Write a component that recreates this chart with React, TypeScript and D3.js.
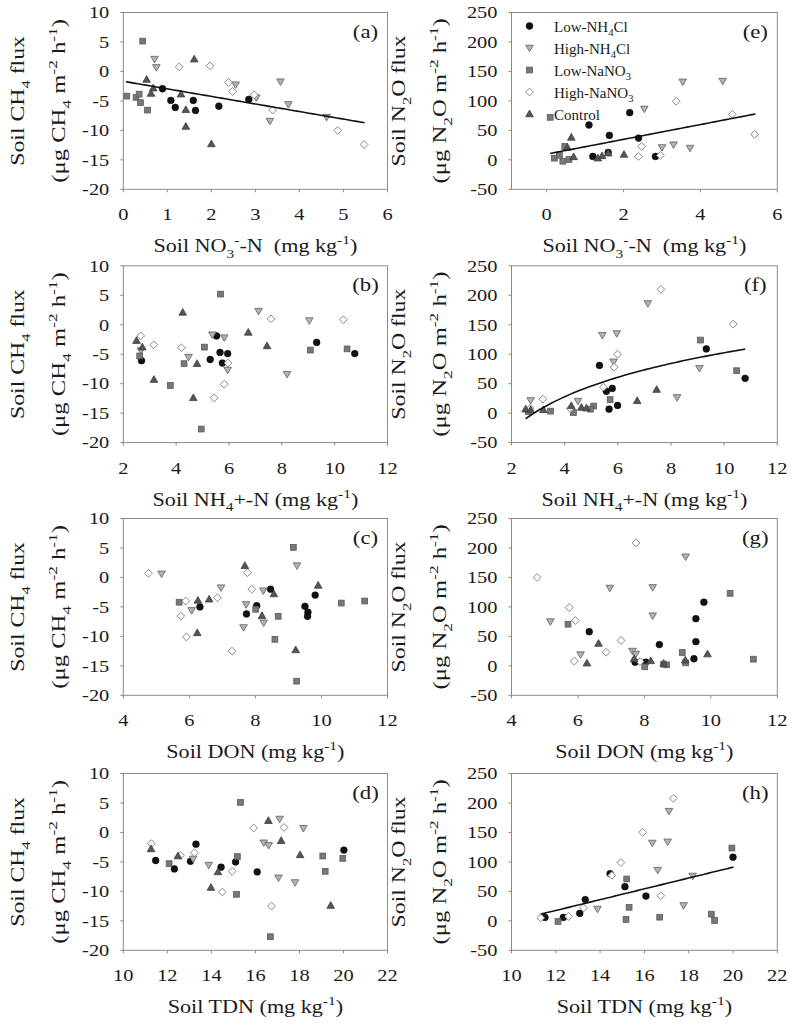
import React from 'react';
import * as d3 from 'd3';

// ---------------- data ----------------
const seriesNames = ['Low-NH4Cl', 'High-NH4Cl', 'Low-NaNO3', 'High-NaNO3', 'Control'];

// (a) soil NO3- vs CH4 flux
const aLowNH4Cl = [[0.89, -2.94], [1.08, -4.92], [1.18, -6.11], [1.59, -4.92], [1.64, -6.62], [2.17, -5.89], [2.85, -4.75]];
const aHighNH4Cl = [[0.71, 2.09], [0.75, 0.68], [2.55, -2.26], [3.57, -1.75], [3.02, -4.47], [3.75, -5.6], [3.33, -8.43], [4.62, -7.76]];
const aLowNaNO3 = [[0.44, 5.15], [0.08, -4.19], [0.29, -4.4], [0.36, -3.85], [0.39, -5.3], [0.55, -6.56]];
const aHighNaNO3 = [[1.27, 0.79], [1.97, 0.96], [2.39, -1.87], [2.48, -3.4], [2.97, -3.96], [3.39, -6.56], [4.87, -10.0], [5.47, -12.4]];
const aControl = [[0.53, -1.36], [0.63, -3.74], [0.68, -2.83], [1.31, -3.85], [1.42, -6.5], [1.42, -9.34], [1.61, 2.09], [2.0, -12.3]];
const aFit = [-1.67, -1.284, 0.06, 5.48]; // intercept, slope, xmin, xmax

// (b) soil NH4+ vs CH4 flux
const bLowNH4Cl = [[2.69, -6.1], [5.53, -1.9], [5.29, -5.9], [5.66, -4.7], [5.95, -4.9], [5.75, -6.5], [9.32, -3.0], [10.76, -4.9]];
const bHighNH4Cl = [[2.67, -4.4], [4.47, -5.5], [5.37, -1.7], [5.82, -2.2], [5.95, -7.7], [7.12, 2.3], [8.2, -8.4], [9.04, 0.7]];
const bLowNaNO3 = [[5.68, 5.2], [2.62, -5.3], [5.07, -3.8], [4.3, -6.6], [3.78, -10.3], [4.95, -17.7], [9.08, -4.3], [10.47, -4.1]];
const bHighNaNO3 = [[2.66, -1.9], [3.15, -3.4], [4.2, -3.9], [5.96, -6.5], [5.82, -10.1], [5.44, -12.4], [7.59, 1.0], [10.33, 0.85]];
const bControl = [[2.5, -2.7], [2.72, -3.8], [3.16, -9.3], [4.25, 2.1], [4.65, -12.4], [4.79, -6.6], [6.73, -1.3], [7.44, -3.6]];

// (c) soil DON vs CH4 flux
const cLowNH4Cl = [[6.32, -5.0], [7.73, -6.2], [8.04, -4.8], [8.46, -2.0], [9.5, -4.9], [9.59, -5.9], [9.58, -6.6], [9.81, -3.0]];
const cHighNH4Cl = [[5.16, 0.6], [6.07, -5.6], [6.96, -1.75], [7.72, -4.6], [7.64, -8.5], [8.24, -2.26], [8.25, -7.7], [9.26, 2.0]];
const cLowNaNO3 = [[5.69, -4.2], [8.01, -5.4], [8.69, -6.6], [8.59, -10.5], [9.15, 5.1], [9.25, -17.6], [10.6, -4.35], [11.31, -4.0]];
const cHighNaNO3 = [[4.76, 0.7], [5.89, -4.0], [5.74, -6.55], [5.91, -10.1], [6.85, -3.45], [7.76, 0.8], [7.89, -2.0], [7.29, -12.5]];
const cControl = [[6.26, -3.9], [6.6, -3.7], [6.24, -9.4], [7.68, 2.0], [8.56, -2.8], [8.2, -6.5], [9.22, -12.3], [9.9, -1.35]];

// (d) soil TDN vs CH4 flux
const dLowNH4Cl = [[11.47, -4.76], [12.32, -6.2], [13.05, -4.9], [13.3, -2.0], [14.44, -5.9], [15.1, -5.0], [16.08, -6.7], [20.02, -3.0]];
const dHighNH4Cl = [[13.17, -4.5], [13.88, -5.55], [16.38, -1.76], [16.6, -2.2], [17.1, 2.27], [17.05, -7.7], [17.8, -8.5], [18.18, 0.7]];
const dLowNaNO3 = [[12.08, -5.3], [15.18, -4.1], [15.32, 5.1], [15.14, -10.5], [16.68, -17.7], [19.06, -4.0], [19.17, -6.6], [19.97, -4.4]];
const dHighNaNO3 = [[11.27, -1.9], [12.59, -3.9], [13.23, -3.45], [14.95, -6.6], [14.5, -10.1], [15.92, 0.74], [17.3, 0.85], [16.73, -12.5]];
const dControl = [[11.26, -2.8], [12.48, -4.0], [13.98, -9.35], [14.3, -6.7], [16.59, 2.0], [17.17, -1.4], [18.03, -3.8], [19.42, -12.4]];

// (e) soil NO3- vs N2O flux
const eLowNH4Cl = [[1.1, 59.1], [2.16, 80.1], [1.63, 41.5], [2.39, 36.9], [1.2, 5.7], [1.6, 12.5], [2.83, 5.7]];
const eHighNH4Cl = [[3.54, 132.3], [4.58, 133.5], [2.54, 86.3], [3.0, 21.0], [3.3, 25.6], [3.73, 19.9]];
const eLowNaNO3 = [[0.09, 72.1], [0.2, 2.8], [0.33, 8.0], [0.42, -2.3], [0.47, 22.7], [0.58, 0.6]];
const eHighNaNO3 = [[3.37, 99.4], [4.83, 77.2], [5.41, 43.2], [2.47, 22.7], [2.39, 5.7], [2.96, 7.4]];
const eControl = [[0.54, 21.0], [0.64, 38.1], [0.7, 5.1], [1.33, 2.8], [1.44, 6.8], [1.6, 11.4], [2.01, 9.1]];
const eFit = [9.67, 12.55, 0.09, 5.43];

// (f) soil NH4+ vs N2O flux
const fLowNH4Cl = [[5.31, 81], [9.33, 109], [10.79, 59], [5.79, 42], [5.57, 37], [5.67, 6.8], [5.99, 13]];
const fHighNH4Cl = [[2.72, 21.5], [4.5, 20.4], [5.42, 132], [5.96, 135], [5.84, 87], [7.13, 186], [9.07, 76], [8.23, 26.6]];
const fLowNaNO3 = [[9.11, 124], [10.47, 72], [5.71, 23], [3.47, 3.4], [4.33, 1.1], [5.09, 12], [4.97, 6.8], [2.63, 2.8]];
const fHighNaNO3 = [[7.62, 210], [10.34, 151], [5.99, 100], [5.86, 78], [5.46, 44], [3.18, 23.8], [2.7, 8], [4.21, 8]];
const fControl = [[2.53, 6.8], [2.72, 5.7], [3.2, 5.7], [4.25, 12.5], [4.63, 9.6], [4.82, 8.5], [6.73, 21], [7.46, 40]];
const fFit = [-85.2, 81.5, 2.53, 10.79]; // y = a + b ln(x)

// (g) soil DON vs N2O flux
const gLowNH4Cl = [[6.34, 58], [8.45, 36], [9.55, 80], [9.79, 108], [9.55, 41], [9.49, 12], [7.72, 6.2], [8.04, 6.2]];
const gHighNH4Cl = [[5.17, 75], [6.08, 19], [6.96, 132], [8.25, 133], [8.25, 85], [9.24, 185], [7.64, 25], [7.74, 20]];
const gLowNaNO3 = [[5.7, 70.6], [8.01, -1.7], [8.67, 1.7], [9.14, 22.6], [9.24, 5], [10.58, 123], [11.28, 11.3], [8.58, 2.8]];
const gHighNaNO3 = [[4.77, 150], [5.74, 99], [5.92, 77], [5.89, 8], [6.85, 23], [7.3, 43], [7.75, 208.5], [7.87, 7.3]];
const gControl = [[6.27, 4.5], [6.62, 38], [7.69, 12], [8.19, 8.5], [8.58, 4], [9.23, 9.6], [9.9, 20]];

// (h) soil TDN vs N2O flux
const hLowNH4Cl = [[11.51, 5.7], [12.34, 5.7], [13.08, 12.5], [13.33, 36], [14.45, 80], [15.12, 58], [16.07, 42], [20.0, 108]];
const hHighNH4Cl = [[13.88, 20], [16.36, 132], [17.05, 134], [17.11, 186], [16.6, 86], [17.77, 26], [18.18, 76]];
const hLowNaNO3 = [[12.1, -1.1], [15.17, 2.3], [15.31, 23], [15.2, 71], [16.69, 6.2], [19.02, 11.3], [19.17, 0.6], [19.95, 123.5]];
const hHighNaNO3 = [[11.32, 5], [12.58, 7.4], [13.25, 22], [14.53, 77], [14.94, 99], [15.92, 150], [17.31, 208], [16.74, 42.5]];
const hControl: number[][] = [];
const hFit = [-92.6, 9.18, 11.32, 20.02];

// axis ticks
const ch4Ticks = [-20, -15, -10, -5, 0, 5, 10];
const n2oTicks = [-50, 0, 50, 100, 150, 200, 250];
const ticksNO3Left = [0, 1, 2, 3, 4, 5, 6];
const ticksNO3Right = [0, 2, 4, 6];
const ticksNH4 = [2, 4, 6, 8, 10, 12];
const ticksDON = [4, 6, 8, 10, 12];
const ticksTDN = [10, 12, 14, 16, 18, 20, 22];

// ---------------- text helpers ----------------
type Part = [string, string];
const FONT = "'Liberation Serif','Times New Roman',Times,serif";

function spans(parts: Part[], F: number) {
  let cur = 0;
  return parts.map(([t, k], i) => {
    const target = k === 'sub' ? 0.3 * F : k === 'sup' ? -0.42 * F : 0;
    const dy = target - cur;
    cur = target;
    return (
      <tspan key={i} dy={dy} fontSize={k === 'n' ? F : 0.7 * F}>
        {t}
      </tspan>
    );
  });
}

function Txt({ x, y, parts, F, sx = 1, anchor = 'middle', rotate = false }: any) {
  const tr = `translate(${x},${y})` + (rotate ? ' rotate(-90)' : '') + ` scale(${sx},1)`;
  return (
    <text transform={tr} textAnchor={anchor} fontFamily={FONT} fontSize={F} fill="#1a1a1a" style={{ whiteSpace: 'pre' }}>
      {spans(parts, F)}
    </text>
  );
}

const xtNO3: Part[] = [['Soil NO', 'n'], ['3', 'sub'], ['-', 'sup'], ['-N  (mg kg', 'n'], ['-1', 'sup'], [')', 'n']];
const xtNH4: Part[] = [['Soil NH', 'n'], ['4', 'sub'], ['+-N (mg kg', 'n'], ['-1', 'sup'], [')', 'n']];
const xtDON: Part[] = [['Soil DON (mg kg', 'n'], ['-1', 'sup'], [')', 'n']];
const xtTDN: Part[] = [['Soil TDN (mg kg', 'n'], ['-1', 'sup'], [')', 'n']];
const ch4L1: Part[] = [['Soil CH', 'n'], ['4', 'sub'], [' flux', 'n']];
const ch4L2: Part[] = [['(\u03bcg CH', 'n'], ['4', 'sub'], [' m', 'n'], ['-2', 'sup'], [' h', 'n'], ['-1', 'sup'], [')', 'n']];
const n2oL1: Part[] = [['Soil N', 'n'], ['2', 'sub'], ['O flux', 'n']];
const n2oL2: Part[] = [['(\u03bcg N', 'n'], ['2', 'sub'], ['O m', 'n'], ['-2', 'sup'], [' h', 'n'], ['-1', 'sup'], [')', 'n']];
const legendParts: Part[][] = [
  [['Low-NH', 'n'], ['4', 'sub'], ['Cl', 'n']],
  [['High-NH', 'n'], ['4', 'sub'], ['Cl', 'n']],
  [['Low-NaNO', 'n'], ['3', 'sub']],
  [['High-NaNO', 'n'], ['3', 'sub']],
  [['Control', 'n']],
];

// ---------------- markers ----------------
function Marker({ t, x, y }: any) {
  if (t === 0) return <circle cx={x} cy={y} r={3.4} fill="#111" stroke="#000" strokeWidth={0.5} />;
  if (t === 1)
    return <path d={`M${x - 3.8},${y - 2.8}L${x + 3.8},${y - 2.8}L${x},${y + 3.7}Z`} fill="#b3b3b3" stroke="#6b6b6b" strokeWidth={0.9} />;
  if (t === 2) return <rect x={x - 2.9} y={y - 2.9} width={5.8} height={5.8} fill="#787878" stroke="#5a5a5a" strokeWidth={0.8} />;
  if (t === 3)
    return <path d={`M${x},${y - 3.9}L${x + 3.9},${y}L${x},${y + 3.9}L${x - 3.9},${y}Z`} fill="#fff" stroke="#7a7a7a" strokeWidth={0.9} />;
  return <path d={`M${x},${y - 3.9}L${x + 3.8},${y + 2.8}L${x - 3.8},${y + 2.8}Z`} fill="#555" stroke="#3d3d3d" strokeWidth={0.8} />;
}

// ---------------- layout ----------------
const colLeft = [123.3, 511.5];
const colWidth = [264.2, 265.8];
const rowTop = [12.5, 265.8, 518.5, 773.5];
const plotH = 176.8;

const panels = [
  { letter: '(a)', col: 0, row: 0, xd: [0, 6], xt: ticksNO3Left, n2o: false, s: [aLowNH4Cl, aHighNH4Cl, aLowNaNO3, aHighNaNO3, aControl], title: xtNO3, fit: aFit, log: false },
  { letter: '(b)', col: 0, row: 1, xd: [2, 12], xt: ticksNH4, n2o: false, s: [bLowNH4Cl, bHighNH4Cl, bLowNaNO3, bHighNaNO3, bControl], title: xtNH4, fit: null, log: false },
  { letter: '(c)', col: 0, row: 2, xd: [4, 12], xt: ticksDON, n2o: false, s: [cLowNH4Cl, cHighNH4Cl, cLowNaNO3, cHighNaNO3, cControl], title: xtDON, fit: null, log: false },
  { letter: '(d)', col: 0, row: 3, xd: [10, 22], xt: ticksTDN, n2o: false, s: [dLowNH4Cl, dHighNH4Cl, dLowNaNO3, dHighNaNO3, dControl], title: xtTDN, fit: null, log: false },
  { letter: '(e)', col: 1, row: 0, xd: [-0.916, 6], xt: ticksNO3Right, n2o: true, s: [eLowNH4Cl, eHighNH4Cl, eLowNaNO3, eHighNaNO3, eControl], title: xtNO3, fit: eFit, log: false },
  { letter: '(f)', col: 1, row: 1, xd: [2, 12], xt: ticksNH4, n2o: true, s: [fLowNH4Cl, fHighNH4Cl, fLowNaNO3, fHighNaNO3, fControl], title: xtNH4, fit: fFit, log: true },
  { letter: '(g)', col: 1, row: 2, xd: [4, 12], xt: ticksDON, n2o: true, s: [gLowNH4Cl, gHighNH4Cl, gLowNaNO3, gHighNaNO3, gControl], title: xtDON, fit: null, log: false },
  { letter: '(h)', col: 1, row: 3, xd: [10, 22], xt: ticksTDN, n2o: true, s: [hLowNH4Cl, hHighNH4Cl, hLowNaNO3, hHighNaNO3, hControl], title: xtTDN, fit: hFit, log: false },
];

const AX = '#8a8a8a';

function Panel({ p }: any) {
  const x0 = colLeft[p.col];
  const w = colWidth[p.col];
  const y0 = rowTop[p.row];
  const x = d3.scaleLinear().domain(p.xd).range([x0, x0 + w]);
  const y = d3.scaleLinear().domain(p.n2o ? [-50, 250] : [-20, 10]).range([y0 + plotH, y0]);
  const yTicks = p.n2o ? n2oTicks : ch4Ticks;
  const yb = y0 + plotH;
  let fitPath: string | null = null;
  if (p.fit) {
    const [a, b, lo, hi] = p.fit;
    const xs = d3.range(0, 61).map((i) => lo + ((hi - lo) * i) / 60);
    const line = d3
      .line<number>()
      .x((v) => x(v))
      .y((v) => y(p.log ? a + b * Math.log(v) : a + b * v));
    fitPath = line(xs);
  }
  const midY = y0 + plotH / 2;
  const t1x = p.col === 0 ? 24 : 405;
  const t2x = p.col === 0 ? 65 : 446;
  return (
    <g>
      {/* frame */}
      <rect x={x0} y={y0} width={w} height={plotH} fill="none" stroke={AX} strokeWidth={1} />
      {yTicks.map((t: number) => (
        <g key={'y' + t}>
          <line x1={x0 - 3} x2={x0} y1={y(t)} y2={y(t)} stroke={AX} />
          <Txt x={x0 - 14} y={y(t) + 5.8} parts={[[String(t), 'n']]} F={17} sx={1.2} anchor="end" />
        </g>
      ))}
      {p.xt.map((t: number) => (
        <g key={'x' + t}>
          <line x1={x(t)} x2={x(t)} y1={yb} y2={yb + 3} stroke={AX} />
          <Txt x={x(t)} y={yb + 31} parts={[[String(t), 'n']]} F={17} sx={1.2} anchor="middle" />
        </g>
      ))}
      {/* points */}
      {p.s.map((arr: number[][], si: number) => (
        <g key={'s' + si}>
          {arr.map((d, i) => (
            <Marker key={i} t={si} x={x(d[0])} y={y(d[1])} />
          ))}
        </g>
      ))}
      {fitPath && <path d={fitPath} fill="none" stroke="#111" strokeWidth={1.6} />}
      <Txt x={x0 + w - 22} y={y0 + 25} parts={[[p.letter, 'n']]} F={19} sx={1.2} anchor="middle" />
      {/* axis titles */}
      <Txt x={x0 + w / 2} y={yb + 63} parts={p.title} F={19} sx={1.165} anchor="middle" />
      <Txt x={t1x} y={midY} parts={p.n2o ? n2oL1 : ch4L1} F={19} sx={1.25} anchor="middle" rotate />
      <Txt x={t2x} y={midY} parts={p.n2o ? n2oL2 : ch4L2} F={19} sx={1.3} anchor="middle" rotate />
    </g>
  );
}

function Legend() {
  const lx = 529.5;
  const rows = [26, 48, 70, 92, 114];
  return (
    <g>
      {seriesNames.map((n, i) => (
        <g key={n}>
          <Marker t={i} x={lx} y={rows[i]} />
          <Txt x={554} y={rows[i] + 5.5} parts={legendParts[i]} F={15} sx={1} anchor="start" />
        </g>
      ))}
    </g>
  );
}

export default function App() {
  return (
    <svg width={792} height={1026} style={{ position: 'absolute', left: 0, top: 0, background: '#fff' }}>
      <rect x={0} y={0} width={792} height={1026} fill="#fff" />
      {panels.map((p) => (
        <Panel key={p.letter} p={p} />
      ))}
      <Legend />
    </svg>
  );
}
